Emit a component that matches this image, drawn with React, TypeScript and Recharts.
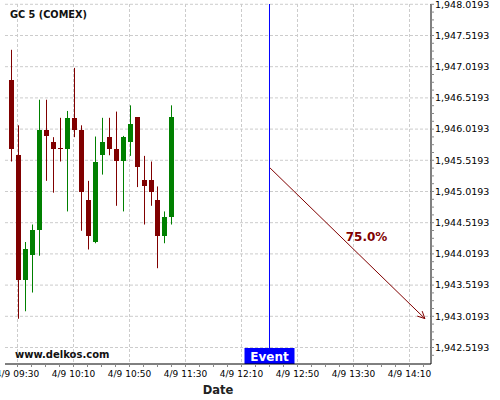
import React from 'react';
import {
  ComposedChart,
  Bar,
  XAxis,
  YAxis,
  CartesianGrid,
  ReferenceLine,
  ReferenceDot,
} from 'recharts';

// ---- data ----
const times = [
  '09:25', '09:30', '09:35', '09:40', '09:45', '09:50', '09:55', '10:00',
  '10:05', '10:10', '10:15', '10:20', '10:25', '10:30', '10:35', '10:40',
  '10:45', '10:50', '10:55', '11:00', '11:05', '11:10', '11:15', '11:20',
];
const opens = [
  1946.8, 1945.6, 1943.6, 1944.0, 1944.4, 1946.0, 1945.81, 1945.71,
  1945.7, 1946.2, 1946.0, 1944.89, 1944.21, 1945.6, 1945.9, 1945.7,
  1945.51, 1945.81, 1946.21, 1945.2, 1945.2, 1944.89, 1944.31, 1944.61,
];
const closes = [
  1945.7, 1943.6, 1944.09, 1944.4, 1946.0, 1945.91, 1945.7, 1945.7,
  1946.2, 1946.0, 1945.01, 1944.31, 1945.5, 1945.81, 1945.7, 1945.51,
  1945.9, 1946.1, 1945.41, 1945.1, 1945.01, 1944.31, 1944.61, 1946.21,
];
const highs = [
  1947.29, 1946.08, 1944.21, 1944.49, 1946.49, 1946.49, 1945.89, 1946.2,
  1946.31, 1947.0, 1946.08, 1945.19, 1945.9, 1946.2, 1946.2, 1946.3,
  1945.91, 1946.4, 1946.21, 1945.59, 1945.5, 1945.1, 1944.7, 1946.4,
];
const lows = [
  1945.5, 1942.98, 1943.1, 1943.4, 1943.99, 1945.19, 1945.0, 1945.5,
  1944.7, 1945.89, 1944.39, 1944.09, 1944.19, 1945.29, 1945.6, 1944.79,
  1944.7, 1945.59, 1945.09, 1944.49, 1944.79, 1943.79, 1944.19, 1944.49,
];

const yMajorTicks = [
  1942.5193, 1943.0193, 1943.5193, 1944.0193, 1944.5193, 1945.0193,
  1945.5193, 1946.0193, 1946.5193, 1947.0193, 1947.5193, 1948.0193,
];
const xMajorTickLabels = ['09:30', '10:10', '10:50', '11:30', '12:10', '12:50', '13:30', '14:10'];

const eventTime = '12:30';
const arrowStart = { time: '12:30', price: 1945.396 };
const arrowEnd = { time: '14:21', price: 1942.982 };
const probLabel = { time: '13:39', price: 1944.3, text: '75.0%' };

const titleText = 'GC 5 (COMEX)';
const watermark = 'www.delkos.com';
const xAxisTitle = 'Date';

// ---- helpers ----
const BASE = 9 * 60 + 30;
const toMin = (t: string) => {
  const [h, m] = t.split(':').map(Number);
  return h * 60 + m - BASE;
};
const fmtTime = (m: number) => {
  const tot = m + BASE;
  const h = Math.floor(tot / 60);
  const mm = tot % 60;
  return `4/9 ${String(h).padStart(2, '0')}:${String(mm).padStart(2, '0')}`;
};

const data = times.map((t, i) => ({
  t: toMin(t),
  open: opens[i],
  close: closes[i],
  high: highs[i],
  low: lows[i],
}));

const xMajor = xMajorTickLabels.map(toMin);
const xTicks: number[] = [];
for (let m = 0; m <= 290; m += 10) xTicks.push(m);

const yTicks: number[] = [];
for (let k = -1; k <= 44; k++) yTicks.push(+(1942.5193 + k * 0.125).toFixed(4));
const isMajorY = (v: number) => yMajorTicks.some((t) => Math.abs(t - v) < 1e-6);

const FONT = 'DejaVu Sans';
const RED = '#800000';
const GREEN = '#008000';

const Candle = (props: any) => {
  const { x, y, width, height, payload } = props;
  if (x == null || y == null) return null;
  const cx = Math.round(x + width / 2) + 0.5;
  const top = Math.min(y, y + height);
  const bot = Math.max(y, y + height);
  const { open, close, high, low } = payload;
  const ppu = (bot - top) / (high - low);
  const yO = top + (high - open) * ppu;
  const yC = top + (high - close) * ppu;
  const bTop = Math.min(yO, yC);
  const bH = Math.max(1, Math.abs(yO - yC));
  const color = close >= open ? GREEN : RED;
  return (
    <g>
      <line x1={cx} x2={cx} y1={top} y2={bot} stroke={color} strokeWidth={1} />
      <rect x={cx - 2.5} y={bTop} width={5} height={bH} fill={color} shapeRendering="crispEdges" />
    </g>
  );
};

const XTick = (props: any) => {
  const { x, y, payload } = props;
  if (!xMajor.includes(payload.value)) return <g />;
  return (
    <text x={x} y={y} dy="0.71em" textAnchor="middle" fontSize={9} fontFamily={FONT} fill="#000">
      {fmtTime(payload.value)}
    </text>
  );
};

const YTick = (props: any) => {
  const { x, y, payload } = props;
  if (!isMajorY(payload.value)) return <g />;
  const label = payload.value.toLocaleString('en-US', {
    minimumFractionDigits: 4,
    maximumFractionDigits: 4,
  });
  return (
    <text x={x} y={y} dy="0.355em" textAnchor="start" fontSize={9.5} fontFamily={FONT} fill="#000">
      {label}
    </text>
  );
};

const ArrowShape = (props: any) => {
  const { x1, y1, x2, y2 } = props;
  if (x1 == null) return null;
  const ang = Math.atan2(y2 - y1, x2 - x1);
  const L = 8;
  const a1 = ang + Math.PI - 0.45;
  const a2 = ang + Math.PI + 0.45;
  return (
    <g>
      <line x1={x1} y1={y1} x2={x2} y2={y2} stroke={RED} strokeWidth={1} />
      <line x1={x2} y1={y2} x2={x2 + L * Math.cos(a1)} y2={y2 + L * Math.sin(a1)} stroke={RED} strokeWidth={1} />
      <line x1={x2} y1={y2} x2={x2 + L * Math.cos(a2)} y2={y2 + L * Math.sin(a2)} stroke={RED} strokeWidth={1} />
    </g>
  );
};

const EventLabel = (props: any) => {
  const vb = props.viewBox || {};
  const x = vb.x;
  const bottom = vb.y + vb.height;
  return (
    <g>
      <rect x={x - 25} y={bottom - 16} width={50} height={16} fill="#0000ff" />
      <text x={x} y={bottom - 3.5} textAnchor="middle" fontSize={12} fontWeight="bold" fontFamily={FONT} fill="#fff">
        Event
      </text>
    </g>
  );
};

const DateLabel = (props: any) => {
  const vb = props.viewBox || {};
  return (
    <text
      x={vb.x + vb.width / 2}
      y={vb.y + 29.5}
      textAnchor="middle"
      fontSize={11.5}
      fontWeight="bold"
      fontFamily={FONT}
      fill="#222"
    >
      {xAxisTitle}
    </text>
  );
};

export default function App() {
  return (
    <div style={{ position: 'absolute', left: 0, top: 0, width: 500, height: 400, background: '#fff' }}>
      <ComposedChart
        width={500}
        height={400}
        data={data}
        margin={{ top: 4, right: 0, left: 5, bottom: 0 }}
      >
        <CartesianGrid
          stroke="#cccccc"
          strokeDasharray="3 2"
          horizontalValues={yMajorTicks}
          verticalValues={xMajor}
        />
        <XAxis
          dataKey="t"
          type="number"
          domain={[-8.93, 295.36]}
          allowDataOverflow
          ticks={xTicks}
          interval={0}
          tick={<XTick />}
          tickSize={3}
          tickMargin={4}
          height={36}
          axisLine={{ stroke: '#000' }}
          tickLine={{ stroke: '#888' }}
          label={{ content: (p: any) => <DateLabel {...p} /> }}
        />
        <YAxis
          orientation="right"
          type="number"
          domain={[1942.2549, 1948.024]}
          allowDataOverflow
          ticks={yTicks}
          interval={0}
          tick={<YTick />}
          tickSize={3}
          tickMargin={1}
          width={69}
          axisLine={{ stroke: '#000' }}
          tickLine={{ stroke: '#888' }}
        />
        <Bar
          dataKey={(d: any) => [d.low, d.high]}
          barSize={5}
          shape={<Candle />}
          isAnimationActive={false}
        />
        <ReferenceLine
          x={toMin(eventTime)}
          stroke="#0000ff"
          strokeWidth={1}
          label={{ content: (p: any) => <EventLabel {...p} /> }}
        />
        <ReferenceLine
          segment={[
            { x: toMin(arrowStart.time) + 0.4, y: arrowStart.price },
            { x: toMin(arrowEnd.time), y: arrowEnd.price },
          ]}
          shape={(p: any) => <ArrowShape {...p} />}
        />
        <ReferenceDot
          x={toMin(probLabel.time) + 0.3}
          y={probLabel.price}
          r={0}
          shape={(p: any) => (
            <text
              x={p.cx}
              y={p.cy}
              dy="0.355em"
              textAnchor="middle"
              fontSize={12}
              fontWeight="bold"
              fontFamily={FONT}
              fill={RED}
            >
              {probLabel.text}
            </text>
          )}
        />
      </ComposedChart>
      <div
        style={{
          position: 'absolute',
          left: 10,
          top: 9,
          fontFamily: FONT,
          fontSize: 9.75,
          fontWeight: 'bold',
          color: '#111',
          lineHeight: '12px',
          whiteSpace: 'nowrap',
        }}
      >
        {titleText}
      </div>
      <div
        style={{
          position: 'absolute',
          left: 15,
          top: 349,
          fontFamily: FONT,
          fontSize: 10,
          fontWeight: 'bold',
          color: '#111',
          lineHeight: '12px',
          whiteSpace: 'nowrap',
        }}
      >
        {watermark}
      </div>
    </div>
  );
}
